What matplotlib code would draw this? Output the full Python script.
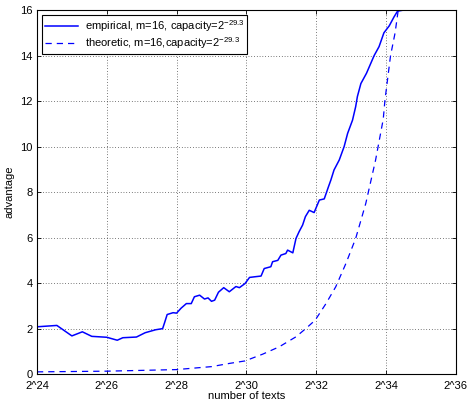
import matplotlib.pyplot as plt
import numpy as np

plt.rcParams['font.family'] = ['Liberation Sans', 'DejaVu Sans']
plt.rcParams['font.size'] = 8
plt.rcParams['mathtext.fontset'] = 'custom'
plt.rcParams['mathtext.rm'] = 'Liberation Sans'

# log2(number of texts) vs advantage
emp_x = [24.0, 24.57, 25.0, 25.3, 25.57, 26.0, 26.3, 26.46, 26.85, 27.1, 27.4, 27.6,
         27.66, 27.73, 27.9, 28.0, 28.13, 28.28, 28.42, 28.51, 28.66, 28.8, 28.9,
         29.0, 29.09, 29.2, 29.35, 29.51, 29.7, 29.8, 29.96, 30.09, 30.25, 30.42,
         30.51, 30.7, 30.75, 30.9, 30.99, 31.13, 31.18, 31.33, 31.42, 31.51, 31.61,
         31.69, 31.8, 31.94, 32.09, 32.23, 32.35, 32.42, 32.51, 32.66, 32.8, 32.9,
         33.04, 33.13, 33.18, 33.28, 33.44, 33.66, 33.8, 33.94, 34.09, 34.23, 34.33,
         34.51]
emp_y = [2.08, 2.14, 1.68, 1.86, 1.66, 1.62, 1.49, 1.6, 1.63, 1.82, 1.95, 2.0,
         2.28, 2.62, 2.7, 2.68, 2.9, 3.1, 3.1, 3.4, 3.47, 3.3, 3.35,
         3.2, 3.25, 3.6, 3.8, 3.62, 3.85, 3.8, 3.98, 4.25, 4.28, 4.31,
         4.64, 4.72, 4.94, 5.0, 5.23, 5.3, 5.45, 5.33, 5.96, 6.26, 6.55,
         6.92, 7.2, 7.1, 7.65, 7.7, 8.23, 8.53, 8.97, 9.41, 10.0, 10.58,
         11.16, 11.75, 12.2, 12.77, 13.22, 14.0, 14.39, 15.0, 15.3, 15.7, 15.95,
         16.0]

theo_x = [24.0, 26.0, 28.0, 29.0, 29.51, 29.96, 30.47, 30.94, 31.42, 31.7, 31.97,
          32.28, 32.56, 32.85, 33.13, 33.42, 33.7, 33.92, 33.97, 34.13, 34.26, 34.35]
theo_y = [0.1, 0.13, 0.2, 0.33, 0.47, 0.58, 0.88, 1.2, 1.64, 2.0, 2.37,
          3.1, 3.84, 4.86, 5.96, 7.5, 9.4, 11.2, 12.05, 14.0, 15.0, 16.0]

xticks = [24, 26, 28, 30, 32, 34, 36]
xtick_labels = ['2^%d' % t for t in xticks]
yticks = [0, 2, 4, 6, 8, 10, 12, 14, 16]

fig = plt.figure(figsize=(4.68, 4.01), dpi=100)
ax = fig.add_axes([0.079, 0.067, 0.895, 0.908])

ax.plot(emp_x, emp_y, '-', color='#0000ff', linewidth=1.1,
        label='empirical, m=16, capacity=$2^{-29.3}$')
ax.plot(theo_x, theo_y, '--', color='#0000ff', linewidth=0.9, dashes=(5, 4),
        label='theoretic, m=16,capacity=$2^{-29.3}$')

ax.set_xlim(24, 36)
ax.set_ylim(0, 16)
ax.set_xticks(xticks)
ax.set_xticklabels(xtick_labels)
ax.set_yticks(yticks)
ax.tick_params(direction='in', top=True, right=True, length=3, width=0.6, pad=3)
ax.tick_params(axis='x', pad=5)
ax.grid(True, color='black', linestyle=(0, (1, 3)), linewidth=0.5)
for s in ax.spines.values():
    s.set_linewidth(0.8)

ax.set_xlabel('number of texts', labelpad=0)
ax.set_ylabel('advantage', labelpad=4)

leg = ax.legend(loc='upper left', fancybox=False, framealpha=1, edgecolor='black',
                borderpad=0.25, handlelength=3.0, handletextpad=0.6,
                borderaxespad=0.45, labelspacing=0.15)
leg.get_frame().set_linewidth(0.8)

fig.savefig('out.png', dpi=100)
